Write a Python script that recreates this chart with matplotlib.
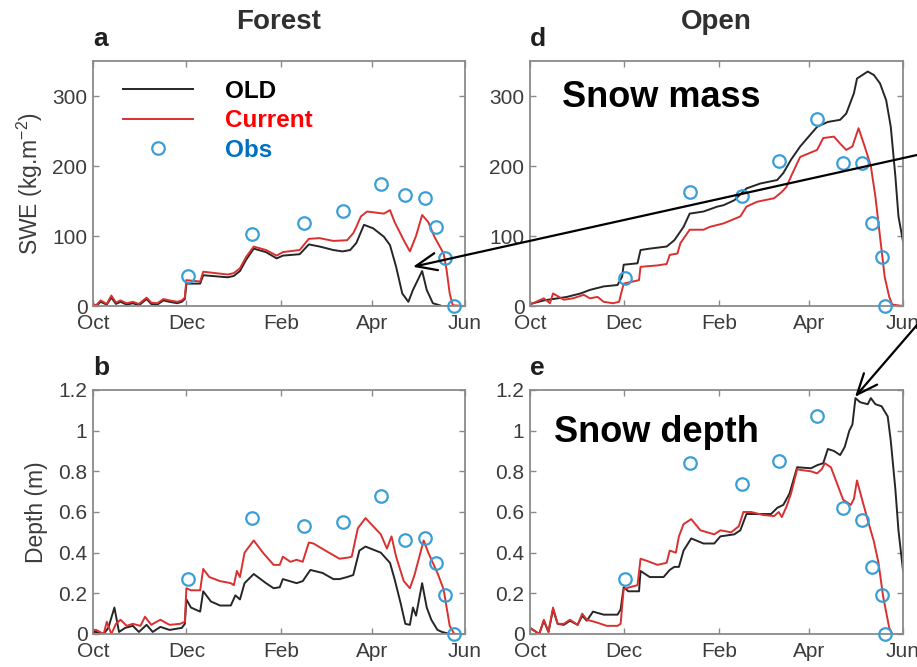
import matplotlib
matplotlib.use("Agg")
import matplotlib.pyplot as plt
from matplotlib.lines import Line2D
from matplotlib.patches import ConnectionPatch

plt.rcParams['font.family'] = ['Liberation Sans', 'DejaVu Sans']
plt.rcParams['mathtext.fontset'] = 'custom'
plt.rcParams['mathtext.rm'] = 'Liberation Sans'
plt.rcParams['mathtext.it'] = 'Liberation Sans'

# time axis: days since 1 October
month_ticks = [0, 61, 123, 182, 243]
month_labels = ['Oct', 'Dec', 'Feb', 'Apr', 'Jun']

# --- Forest SWE (kg m-2) ---
forest_swe_old_days = [0, 2, 5, 9, 12, 15, 18, 22, 26, 30, 35, 38, 42, 46, 50, 55, 58, 60, 61, 70,
                       72, 88, 92, 96, 100, 105, 113, 120, 124, 135, 141, 148, 157, 163, 168, 172, 177, 183, 190, 194,
                       198, 202, 206, 209, 215, 218, 222, 228, 243]
forest_swe_old = [2, 0, 6, 2, 12, 3, 6, 2, 4, 1, 10, 3, 2, 8, 6, 4, 6, 10, 32, 32,
                  44, 41, 43, 50, 66, 82, 77, 68, 72, 74, 88, 85, 80, 78, 80, 90, 116, 111, 99, 87,
                  56, 18, 6, 23, 50, 23, 4, 0, 0]
forest_swe_cur_days = [0, 2, 5, 9, 12, 15, 18, 22, 26, 30, 35, 38, 42, 46, 50, 55, 58, 60, 61, 70,
                       72, 88, 92, 96, 100, 105, 113, 120, 124, 135, 141, 148, 157, 166, 170, 172, 175, 179, 190, 194,
                       197, 203, 207, 211, 215, 219, 223, 229, 231, 233, 235, 243]
forest_swe_cur = [3, 1, 8, 3, 15, 5, 8, 4, 6, 3, 12, 5, 4, 10, 8, 6, 8, 12, 37, 35,
                  49, 45, 47, 54, 70, 85, 80, 72, 77, 80, 96, 97, 93, 94, 104, 113, 128, 135, 132, 137,
                  120, 94, 78, 100, 130, 120, 99, 75, 51, 18, 1, 0]

# --- Forest depth (m) ---
forest_depth_old_days = [0, 2, 7, 10, 14, 17, 21, 26, 30, 35, 39, 44, 50, 58, 60, 61, 64, 70, 72, 77,
                         83, 90, 93, 96, 99, 105, 113, 118, 122, 124, 133, 137, 142, 150, 157, 161, 166, 170, 174, 178,
                         188, 194, 197, 201, 204, 207, 209, 211, 215, 218, 221, 225, 228, 233, 243]
forest_depth_old = [0.01, 0.01, 0.0, 0.03, 0.13, 0.01, 0.03, 0.04, 0.01, 0.045,
                    0.01, 0.035, 0.02, 0.03, 0.05, 0.17, 0.13, 0.11, 0.21, 0.16,
                    0.14, 0.14, 0.19, 0.17, 0.25, 0.295, 0.25, 0.225, 0.23, 0.27,
                    0.25, 0.26, 0.315, 0.30, 0.27, 0.27, 0.28, 0.29, 0.41, 0.43,
                    0.40, 0.35, 0.27, 0.15, 0.05, 0.045, 0.13, 0.09, 0.25, 0.13,
                    0.07, 0.02, 0.01, 0.0, 0.0]
forest_depth_cur_days = [0, 2, 7, 9, 12, 15, 18, 22, 26, 31, 34, 38, 44, 50, 57, 60, 61, 64, 70, 72,
                         76, 83, 90, 92, 94, 96, 99, 105, 111, 118, 122, 124, 129, 133, 137, 141, 144, 153, 161, 166,
                         169, 173, 178, 183, 188, 192, 195, 198, 203, 207, 210, 216, 219, 225, 229, 233, 236, 243]
forest_depth_cur = [0.02, 0.02, 0.0, 0.06, 0.0, 0.05, 0.07, 0.04, 0.05, 0.04,
                    0.085, 0.045, 0.07, 0.045, 0.05, 0.06, 0.225, 0.215, 0.215, 0.32,
                    0.28, 0.26, 0.25, 0.24, 0.31, 0.28, 0.40, 0.46, 0.40, 0.34,
                    0.34, 0.38, 0.355, 0.365, 0.355, 0.45, 0.445, 0.405, 0.37, 0.375,
                    0.38, 0.52, 0.57, 0.53, 0.49, 0.42, 0.48, 0.38, 0.26, 0.225,
                    0.29, 0.46, 0.40, 0.30, 0.22, 0.04, 0.0, 0.0]

# --- Open SWE (kg m-2) ---
open_swe_old_days = [0, 2, 9, 18, 24, 33, 39, 48, 57, 60, 61, 70, 72, 78, 89, 94, 100, 104, 113, 122,
                     126, 133, 141, 150, 161, 165, 170, 176, 187, 194, 202, 206, 211, 213, 220, 224, 228, 232, 235, 238,
                     240, 243]
open_swe_old = [3, 4, 8, 11, 13, 18, 23, 28, 30, 42, 59, 61, 80, 82, 85, 94, 113, 132, 135, 142,
                144, 151, 168, 175, 180, 190, 209, 228, 256, 263, 266, 275, 304, 325, 335, 330, 318, 294, 256, 185,
                128, 92]
open_swe_cur_days = [0, 2, 9, 13, 15, 22, 28, 35, 39, 44, 48, 54, 58, 61, 63, 71, 72, 83, 89, 91,
                     96, 98, 104, 113, 117, 126, 137, 141, 148, 159, 164, 167, 170, 174, 176, 187, 191, 198, 202, 206,
                     210, 214, 218, 222, 225, 228, 231, 234, 236, 243]
open_swe_cur = [2, 4, 11, 4, 18, 9, 11, 16, 11, 13, 6, 4, 6, 32, 33, 37, 56, 58, 60, 73,
                75, 90, 109, 109, 113, 118, 128, 142, 149, 154, 163, 170, 185, 204, 213, 223, 240, 242, 232, 223,
                228, 254, 228, 200, 156, 99, 42, 13, 2, 0]

# --- Open depth (m) ---
open_depth_old_days = [0, 2, 6, 9, 12, 15, 18, 22, 26, 31, 34, 37, 41, 48, 57, 59, 61, 64, 71, 72,
                       78, 87, 91, 94, 97, 100, 105, 113, 120, 124, 133, 137, 141, 148, 157, 161, 165, 169, 174, 183,
                       187, 191, 194, 198, 202, 205, 208, 210, 212, 215, 220, 222, 225, 229, 233, 235, 238, 240, 243]
open_depth_old = [0.03, 0.02, 0.0, 0.065, 0.01, 0.12, 0.05, 0.045, 0.065, 0.045,
                  0.09, 0.065, 0.11, 0.095, 0.095, 0.12, 0.23, 0.21, 0.21, 0.31,
                  0.28, 0.28, 0.315, 0.33, 0.33, 0.41, 0.47, 0.445, 0.445, 0.48,
                  0.49, 0.51, 0.59, 0.59, 0.59, 0.62, 0.635, 0.69, 0.82, 0.815,
                  0.83, 0.84, 0.91, 0.9, 0.88, 0.92, 1.0, 1.03, 1.16, 1.14,
                  1.13, 1.16, 1.13, 1.12, 1.07, 0.95, 0.71, 0.51, 0.31]
open_depth_cur_days = [0, 2, 6, 9, 12, 15, 18, 22, 26, 31, 34, 37, 42, 46, 50, 57, 59, 61, 65, 70,
                       72, 76, 83, 89, 91, 95, 97, 100, 105, 111, 120, 124, 131, 136, 139, 144, 152, 159, 162, 164,
                       167, 170, 174, 178, 183, 187, 190, 192, 196, 200, 204, 209, 211, 213, 216, 220, 224, 227, 230, 234,
                       236, 243]
open_depth_cur = [0.03, 0.02, 0.0, 0.07, 0.01, 0.13, 0.05, 0.05, 0.07, 0.045,
                  0.10, 0.07, 0.06, 0.05, 0.04, 0.04, 0.05, 0.22, 0.23, 0.24,
                  0.37, 0.36, 0.34, 0.35, 0.41, 0.40, 0.48, 0.54, 0.565, 0.51,
                  0.49, 0.51, 0.50, 0.53, 0.60, 0.60, 0.585, 0.58, 0.60, 0.575,
                  0.625, 0.69, 0.81, 0.805, 0.80, 0.79, 0.81, 0.84, 0.82, 0.74,
                  0.66, 0.635, 0.665, 0.755, 0.67, 0.56, 0.455, 0.35, 0.185, 0.03,
                  0.0, 0.0]

# --- observations ---
obs_days_forest = [62, 104, 138, 163, 188, 204, 217, 224, 230, 236]
obs_swe_forest = [43, 103, 119, 136, 175, 159, 155, 113, 69, 0]
obs_depth_forest = [0.27, 0.57, 0.53, 0.55, 0.68, 0.46, 0.47, 0.35, 0.19, 0.0]
obs_days_open = [62, 104, 138, 162, 187, 204, 216, 223, 229, 231]
obs_swe_open = [40, 163, 157, 207, 267, 205, 205, 118, 70, 0]
obs_depth_open = [0.27, 0.84, 0.74, 0.85, 1.07, 0.62, 0.56, 0.33, 0.19, 0.0]

swe_ticks = [0, 100, 200, 300]
swe_labels = ['0', '100', '200', '300']
depth_ticks = [0, 0.2, 0.4, 0.6, 0.8, 1.0, 1.2]
depth_labels = ['0', '0.2', '0.4', '0.6', '0.8', '1', '1.2']

OLD_C = '#262626'
CUR_C = '#d93030'
OBS_C = '#3a9fd6'
AX_C = '#8a8a8a'
TXT_C = '#3c3c3c'

fig = plt.figure(figsize=(9.17, 6.67), dpi=100)
ax_a = fig.add_axes([0.1014, 0.5412, 0.4057, 0.3673])
ax_d = fig.add_axes([0.578, 0.5412, 0.4068, 0.3673])
ax_b = fig.add_axes([0.1014, 0.0495, 0.4057, 0.3658])
ax_e = fig.add_axes([0.578, 0.0495, 0.4068, 0.3658])


def draw_panel(ax, d_old, old, d_cur, cur, d_obs, obs, ymax, yt, ytl):
    ax.plot(d_old, old, color=OLD_C, lw=1.4)
    ax.plot(d_cur, cur, color=CUR_C, lw=1.4)
    ax.plot(d_obs, obs, 'o', mfc='none', mec=OBS_C, mew=1.6, ms=9, clip_on=False, zorder=5)
    ax.set_xlim(0, 243)
    ax.set_ylim(0, ymax)
    ax.set_xticks(month_ticks)
    ax.set_xticklabels(month_labels)
    ax.set_yticks(yt)
    ax.set_yticklabels(ytl)
    ax.tick_params(direction='in', length=4, width=1, color=AX_C, labelcolor=TXT_C,
                   labelsize=15, top=True, right=True)
    ax.tick_params(axis='x', pad=6)
    ax.tick_params(axis='y', pad=4)
    for sp in ax.spines.values():
        sp.set_color(AX_C)
        sp.set_linewidth(1.3)


draw_panel(ax_a, forest_swe_old_days, forest_swe_old, forest_swe_cur_days, forest_swe_cur,
           obs_days_forest, obs_swe_forest, 350, swe_ticks, swe_labels)
draw_panel(ax_d, open_swe_old_days, open_swe_old, open_swe_cur_days, open_swe_cur,
           obs_days_open, obs_swe_open, 350, swe_ticks, swe_labels)
draw_panel(ax_b, forest_depth_old_days, forest_depth_old, forest_depth_cur_days, forest_depth_cur,
           obs_days_forest, obs_depth_forest, 1.2, depth_ticks, depth_labels)
draw_panel(ax_e, open_depth_old_days, open_depth_old, open_depth_cur_days, open_depth_cur,
           obs_days_open, obs_depth_open, 1.2, depth_ticks, depth_labels)

ax_a.set_ylabel('SWE (kg.m$^{-2}$)', fontsize=16.5, color=TXT_C)
ax_a.yaxis.set_label_coords(-0.128, 0.5)
ax_b.set_ylabel('Depth (m)', fontsize=16.5, color=TXT_C)
ax_b.yaxis.set_label_coords(-0.122, 0.5)

# column titles and panel letters
ax_a.text(0.5, 1.13, 'Forest', transform=ax_a.transAxes, ha='center', va='baseline',
          fontsize=20, fontweight='bold', color='#303030')
ax_d.text(0.5, 1.13, 'Open', transform=ax_d.transAxes, ha='center', va='baseline',
          fontsize=20, fontweight='bold', color='#303030')
for ax, letter in [(ax_a, 'a'), (ax_d, 'd'), (ax_b, 'b'), (ax_e, 'e')]:
    ax.text(0.0, 1.06, letter, transform=ax.transAxes, ha='left', va='baseline',
            fontsize=19, fontweight='bold', color='#202020')

ax_d.text(0.086, 0.812, 'Snow mass', transform=ax_d.transAxes, ha='left', va='baseline',
          fontsize=26, fontweight='bold', color='black')
ax_e.text(0.064, 0.787, 'Snow depth', transform=ax_e.transAxes, ha='left', va='baseline',
          fontsize=26, fontweight='bold', color='black')

# legend
handles = [Line2D([], [], color=OLD_C, lw=1.4),
           Line2D([], [], color=CUR_C, lw=1.4),
           Line2D([], [], ls='none', marker='o', mfc='none', mec=OBS_C, mew=1.6, ms=9)]
leg = ax_a.legend(handles, ['OLD', 'Current', 'Obs'], loc='upper left', bbox_to_anchor=(0.081, 0.924),
                  frameon=False, borderpad=0, borderaxespad=0, handlelength=2.88, handletextpad=1.3,
                  labelspacing=0.27, prop={'weight': 'bold', 'size': 17.5})
for t, c in zip(leg.get_texts(), ['black', '#ff0000', '#0070c0']):
    t.set_color(c)

# arrows coming in from the right margin
arrow_kw = dict(arrowstyle='->,head_length=0.6,head_width=0.25', mutation_scale=25,
                lw=1.6, color='black', shrinkA=0, shrinkB=0)
fig.add_artist(ConnectionPatch(xyA=(1.0, 1 - 155 / 667), coordsA='figure fraction',
                               xyB=(209, 56), coordsB=ax_a.transData, **arrow_kw))
fig.add_artist(ConnectionPatch(xyA=(1.0, 1 - 325 / 667), coordsA='figure fraction',
                               xyB=(211.7, 1.166), coordsB=ax_e.transData, **arrow_kw))

fig.savefig('out.png', dpi=100)
